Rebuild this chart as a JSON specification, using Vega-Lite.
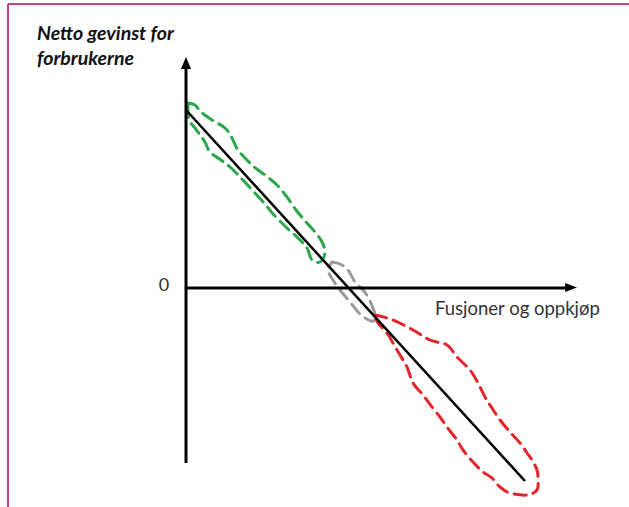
{
  "$schema": "https://vega.github.io/schema/vega-lite/v6.json",
  "width": 629,
  "height": 507,
  "padding": 0,
  "autosize": {"type": "none"},
  "background": "white",
  "config": {"view": {"stroke": null}},
  "datasets": {
    "shapes": [
      {"shape": "green", "i": 0, "x": 2, "y": 185},
      {"shape": "green", "i": 1, "x": 9, "y": 183},
      {"shape": "green", "i": 2, "x": 15, "y": 176},
      {"shape": "green", "i": 3, "x": 26, "y": 168},
      {"shape": "green", "i": 4, "x": 39, "y": 160},
      {"shape": "green", "i": 5, "x": 46, "y": 150},
      {"shape": "green", "i": 6, "x": 52, "y": 138},
      {"shape": "green", "i": 7, "x": 66, "y": 123},
      {"shape": "green", "i": 8, "x": 79, "y": 113},
      {"shape": "green", "i": 9, "x": 91, "y": 103},
      {"shape": "green", "i": 10, "x": 101, "y": 91},
      {"shape": "green", "i": 11, "x": 110, "y": 78},
      {"shape": "green", "i": 12, "x": 120, "y": 66},
      {"shape": "green", "i": 13, "x": 129, "y": 56},
      {"shape": "green", "i": 14, "x": 136, "y": 46},
      {"shape": "green", "i": 15, "x": 139, "y": 35},
      {"shape": "green", "i": 16, "x": 134, "y": 26},
      {"shape": "green", "i": 17, "x": 126, "y": 28},
      {"shape": "green", "i": 18, "x": 121, "y": 40},
      {"shape": "green", "i": 19, "x": 112, "y": 50},
      {"shape": "green", "i": 20, "x": 101, "y": 60},
      {"shape": "green", "i": 21, "x": 88, "y": 73},
      {"shape": "green", "i": 22, "x": 79, "y": 84},
      {"shape": "green", "i": 23, "x": 67, "y": 97},
      {"shape": "green", "i": 24, "x": 56, "y": 109},
      {"shape": "green", "i": 25, "x": 44, "y": 121},
      {"shape": "green", "i": 26, "x": 35, "y": 128},
      {"shape": "green", "i": 27, "x": 24, "y": 136},
      {"shape": "green", "i": 28, "x": 19, "y": 146},
      {"shape": "green", "i": 29, "x": 14, "y": 153},
      {"shape": "green", "i": 30, "x": 9, "y": 160},
      {"shape": "green", "i": 31, "x": 3, "y": 168},
      {"shape": "green", "i": 32, "x": 2, "y": 178},
      {"shape": "green", "i": 33, "x": 2, "y": 185},
      {"shape": "grey", "i": 0, "x": 146, "y": 26},
      {"shape": "grey", "i": 1, "x": 154, "y": 24},
      {"shape": "grey", "i": 2, "x": 162, "y": 18},
      {"shape": "grey", "i": 3, "x": 169, "y": 6},
      {"shape": "grey", "i": 4, "x": 177, "y": -2},
      {"shape": "grey", "i": 5, "x": 182, "y": -9},
      {"shape": "grey", "i": 6, "x": 187, "y": -20},
      {"shape": "grey", "i": 7, "x": 190, "y": -30},
      {"shape": "grey", "i": 8, "x": 185, "y": -33},
      {"shape": "grey", "i": 9, "x": 174, "y": -26},
      {"shape": "grey", "i": 10, "x": 164, "y": -14},
      {"shape": "grey", "i": 11, "x": 154, "y": -2},
      {"shape": "grey", "i": 12, "x": 147, "y": 8},
      {"shape": "grey", "i": 13, "x": 142, "y": 18},
      {"shape": "grey", "i": 14, "x": 146, "y": 26},
      {"shape": "red", "i": 0, "x": 189, "y": -27},
      {"shape": "red", "i": 1, "x": 207, "y": -32},
      {"shape": "red", "i": 2, "x": 227, "y": -42},
      {"shape": "red", "i": 3, "x": 244, "y": -52},
      {"shape": "red", "i": 4, "x": 261, "y": -57},
      {"shape": "red", "i": 5, "x": 271, "y": -69},
      {"shape": "red", "i": 6, "x": 284, "y": -82},
      {"shape": "red", "i": 7, "x": 292, "y": -95},
      {"shape": "red", "i": 8, "x": 299, "y": -109},
      {"shape": "red", "i": 9, "x": 306, "y": -120},
      {"shape": "red", "i": 10, "x": 314, "y": -132},
      {"shape": "red", "i": 11, "x": 324, "y": -144},
      {"shape": "red", "i": 12, "x": 334, "y": -155},
      {"shape": "red", "i": 13, "x": 341, "y": -165},
      {"shape": "red", "i": 14, "x": 346, "y": -172},
      {"shape": "red", "i": 15, "x": 351, "y": -182},
      {"shape": "red", "i": 16, "x": 352, "y": -192},
      {"shape": "red", "i": 17, "x": 351, "y": -202},
      {"shape": "red", "i": 18, "x": 341, "y": -207},
      {"shape": "red", "i": 19, "x": 324, "y": -205},
      {"shape": "red", "i": 20, "x": 314, "y": -199},
      {"shape": "red", "i": 21, "x": 306, "y": -190},
      {"shape": "red", "i": 22, "x": 297, "y": -184},
      {"shape": "red", "i": 23, "x": 287, "y": -174},
      {"shape": "red", "i": 24, "x": 277, "y": -162},
      {"shape": "red", "i": 25, "x": 271, "y": -152},
      {"shape": "red", "i": 26, "x": 261, "y": -139},
      {"shape": "red", "i": 27, "x": 254, "y": -129},
      {"shape": "red", "i": 28, "x": 246, "y": -119},
      {"shape": "red", "i": 29, "x": 237, "y": -107},
      {"shape": "red", "i": 30, "x": 227, "y": -95},
      {"shape": "red", "i": 31, "x": 221, "y": -79},
      {"shape": "red", "i": 32, "x": 214, "y": -67},
      {"shape": "red", "i": 33, "x": 207, "y": -55},
      {"shape": "red", "i": 34, "x": 201, "y": -45},
      {"shape": "red", "i": 35, "x": 192, "y": -35},
      {"shape": "red", "i": 36, "x": 189, "y": -27}
    ],
    "frame": [
      {"x": -178, "y": 284, "x2": 443, "y2": 284},
      {"x": -178, "y": 284, "x2": -178, "y2": -219}
    ],
    "axes": [
      {"x": 0, "y": -175, "x2": 0, "y2": 221},
      {"x": 0, "y": 0, "x2": 384, "y2": 0}
    ],
    "arrows": [
      {"dir": "up", "x": 0, "y": 222.6},
      {"dir": "right", "x": 382.6, "y": 0.5}
    ],
    "diag": [
      {"x": 0, "y": 178, "x2": 339, "y2": -193}
    ],
    "labels": [
      {"kind": "title", "text": "Netto gevinst for", "x": -149, "y": 248},
      {"kind": "title", "text": "forbrukerne", "x": -149, "y": 223},
      {"kind": "zero", "text": "0", "x": -22, "y": 2},
      {"kind": "xlab", "text": "Fusjoner og oppkjøp", "x": 249, "y": -27}
    ]
  },
  "layer": [
    {
      "data": {"name": "frame"},
      "mark": {"type": "rule", "color": "#c8408a", "strokeWidth": 2},
      "encoding": {
        "x": {"field": "x", "type": "quantitative", "scale": {"domain": [-186, 443], "nice": false, "zero": false}, "axis": null},
        "y": {"field": "y", "type": "quantitative", "scale": {"domain": [-219, 288], "nice": false, "zero": false}, "axis": null},
        "x2": {"field": "x2"},
        "y2": {"field": "y2"}
      }
    },
    {
      "data": {"name": "shapes"},
      "mark": {"type": "line", "strokeWidth": 3, "strokeDash": [12, 7], "interpolate": "cardinal", "strokeCap": "round"},
      "encoding": {
        "x": {"field": "x", "type": "quantitative", "scale": {"domain": [-186, 443], "nice": false, "zero": false}, "axis": null},
        "y": {"field": "y", "type": "quantitative", "scale": {"domain": [-219, 288], "nice": false, "zero": false}, "axis": null},
        "order": {"field": "i", "type": "quantitative"},
        "color": {"field": "shape", "type": "nominal", "legend": null, "scale": {"domain": ["green", "grey", "red"], "range": ["#2aa84a", "#9a9a9a", "#e3262b"]}}
      }
    },
    {
      "data": {"name": "axes"},
      "mark": {"type": "rule", "color": "#000000", "strokeWidth": 3},
      "encoding": {
        "x": {"field": "x", "type": "quantitative", "scale": {"domain": [-186, 443], "nice": false, "zero": false}, "axis": null},
        "y": {"field": "y", "type": "quantitative", "scale": {"domain": [-219, 288], "nice": false, "zero": false}, "axis": null},
        "x2": {"field": "x2"},
        "y2": {"field": "y2"}
      }
    },
    {
      "data": {"name": "diag"},
      "mark": {"type": "rule", "color": "#000000", "strokeWidth": 2.5},
      "encoding": {
        "x": {"field": "x", "type": "quantitative", "scale": {"domain": [-186, 443], "nice": false, "zero": false}, "axis": null},
        "y": {"field": "y", "type": "quantitative", "scale": {"domain": [-219, 288], "nice": false, "zero": false}, "axis": null},
        "x2": {"field": "x2"},
        "y2": {"field": "y2"}
      }
    },
    {
      "data": {"name": "arrows"},
      "transform": [{"filter": "datum.dir == 'up'"}],
      "mark": {"type": "point", "filled": true, "color": "#000000", "opacity": 1, "size": 196, "shape": "M0,-1.2L0.72,0.5L-0.72,0.5Z"},
      "encoding": {
        "x": {"field": "x", "type": "quantitative", "scale": {"domain": [-186, 443], "nice": false, "zero": false}, "axis": null},
        "y": {"field": "y", "type": "quantitative", "scale": {"domain": [-219, 288], "nice": false, "zero": false}, "axis": null}
      }
    },
    {
      "data": {"name": "arrows"},
      "transform": [{"filter": "datum.dir == 'right'"}],
      "mark": {"type": "point", "filled": true, "color": "#000000", "opacity": 1, "size": 196, "shape": "M1.2,0L-0.5,0.65L-0.5,-0.65Z"},
      "encoding": {
        "x": {"field": "x", "type": "quantitative", "scale": {"domain": [-186, 443], "nice": false, "zero": false}, "axis": null},
        "y": {"field": "y", "type": "quantitative", "scale": {"domain": [-219, 288], "nice": false, "zero": false}, "axis": null}
      }
    },
    {
      "data": {"name": "labels"},
      "transform": [{"filter": "datum.kind == 'title'"}],
      "mark": {"type": "text", "align": "left", "baseline": "alphabetic", "font": "Lato", "fontSize": 19.5, "fontWeight": "bold", "fontStyle": "italic", "color": "#111111"},
      "encoding": {
        "x": {"field": "x", "type": "quantitative", "scale": {"domain": [-186, 443], "nice": false, "zero": false}, "axis": null},
        "y": {"field": "y", "type": "quantitative", "scale": {"domain": [-219, 288], "nice": false, "zero": false}, "axis": null},
        "text": {"field": "text"}
      }
    },
    {
      "data": {"name": "labels"},
      "transform": [{"filter": "datum.kind == 'zero'"}],
      "mark": {"type": "text", "align": "center", "baseline": "middle", "font": "Lato", "fontSize": 18, "color": "#333333"},
      "encoding": {
        "x": {"field": "x", "type": "quantitative", "scale": {"domain": [-186, 443], "nice": false, "zero": false}, "axis": null},
        "y": {"field": "y", "type": "quantitative", "scale": {"domain": [-219, 288], "nice": false, "zero": false}, "axis": null},
        "text": {"field": "text"}
      }
    },
    {
      "data": {"name": "labels"},
      "transform": [{"filter": "datum.kind == 'xlab'"}],
      "mark": {"type": "text", "align": "left", "baseline": "alphabetic", "font": "Lato", "fontSize": 18.5, "color": "#333333"},
      "encoding": {
        "x": {"field": "x", "type": "quantitative", "scale": {"domain": [-186, 443], "nice": false, "zero": false}, "axis": null},
        "y": {"field": "y", "type": "quantitative", "scale": {"domain": [-219, 288], "nice": false, "zero": false}, "axis": null},
        "text": {"field": "text"}
      }
    }
  ]
}
